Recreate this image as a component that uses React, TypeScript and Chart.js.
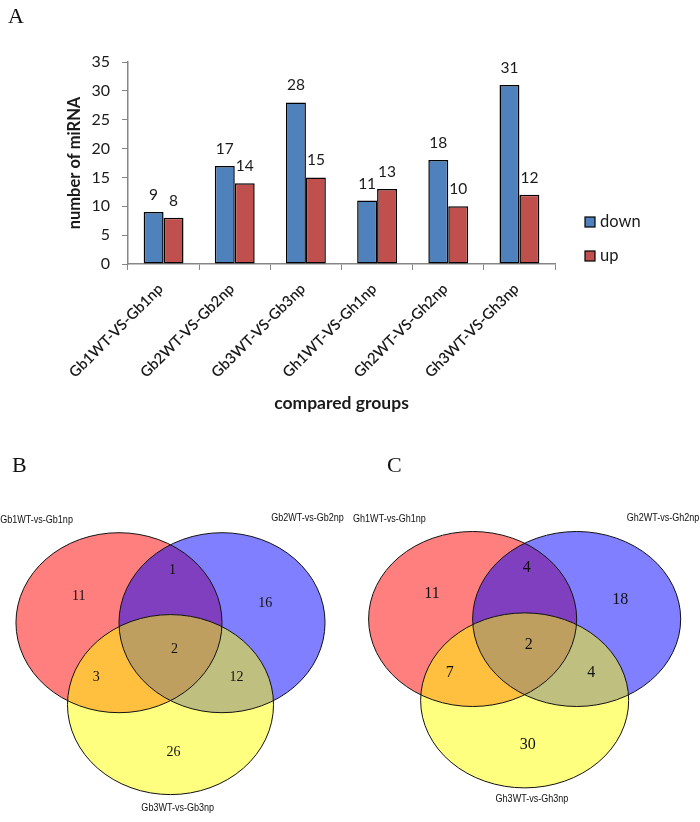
import React, { useEffect, useRef } from 'react';
import { Chart, registerables } from 'chart.js';

Chart.register(...registerables);

// ---------- Panel A data ----------
const GROUPS = [
  'Gb1WT-VS-Gb1np',
  'Gb2WT-VS-Gb2np',
  'Gb3WT-VS-Gb3np',
  'Gh1WT-VS-Gh1np',
  'Gh2WT-VS-Gh2np',
  'Gh3WT-VS-Gh3np',
];
const DOWN = [9, 17, 28, 11, 18, 31];
const UP = [8, 14, 15, 13, 10, 12];
const Y_MIN = 0;
const Y_MAX = 35;
const Y_STEP = 5;

// ---------- Panel B / C data ----------
// region order: only1, 1&2, only2, 1&2&3, 1&3, 2&3, only3
const VENN_B_SETS = ['Gb1WT-vs-Gb1np', 'Gb2WT-vs-Gb2np', 'Gb3WT-vs-Gb3np'];
const VENN_B_COUNTS = [11, 1, 16, 2, 3, 12, 26];
const VENN_C_SETS = ['Gh1WT-vs-Gh1np', 'Gh2WT-vs-Gh2np', 'Gh3WT-vs-Gh3np'];
const VENN_C_COUNTS = [11, 4, 18, 2, 7, 4, 30];

// ---------- Venn geometry (data units, circle radius = 1) ----------
const VENN_RADIUS = 1;
const VENN_B_CENTERS = [
  [-0.5, 0],
  [0.5, 0],
  [0, -0.91],
];
const VENN_C_CENTERS = [
  [-0.5, 0],
  [0.5, 0],
  [0, -0.93],
];
const REGION_ANCHORS = [
  [-0.89, 0.29],
  [0.02, 0.58],
  [0.92, 0.22],
  [0.04, -0.3],
  [-0.72, -0.61],
  [0.64, -0.61],
  [0.03, -1.44],
];
const NAME_ANCHORS = [
  [-1.3, 1.14],
  [1.33, 1.16],
  [0.07, -2.06],
];

const VENN_FILLS = ['rgba(255,0,0,0.5)', 'rgba(0,0,255,0.5)', 'rgba(255,255,0,0.5)'];

const LATO = 'Lato, "Open Sans", sans-serif';
const SERIF = '"Liberation Serif", "DejaVu Serif", serif';
const SANS = '"Liberation Sans", Arial, sans-serif';

// ---------- plugins ----------
const valueLabelPlugin = {
  id: 'valueLabels',
  afterDatasetsDraw(chart: any) {
    const ctx = chart.ctx;
    ctx.save();
    ctx.font = `15.5px ${LATO}`;
    ctx.fillStyle = '#1a1a1a';
    ctx.textAlign = 'center';
    ctx.textBaseline = 'alphabetic';
    chart.data.datasets.forEach((ds: any, i: number) => {
      const meta = chart.getDatasetMeta(i);
      meta.data.forEach((bar: any, j: number) => {
        ctx.fillText(String(ds.data[j]), bar.x, bar.y - 12);
      });
    });
    ctx.restore();
  },
};

const sideLegendPlugin = {
  id: 'sideLegend',
  afterDraw(chart: any) {
    const ctx = chart.ctx;
    const area = chart.chartArea;
    ctx.save();
    ctx.font = `16.5px ${LATO}`;
    ctx.textBaseline = 'middle';
    ctx.textAlign = 'left';
    chart.data.datasets.forEach((ds: any, i: number) => {
      const x = area.right + 30;
      const y = area.bottom - 42 + i * 34;
      ctx.fillStyle = ds.backgroundColor;
      ctx.fillRect(x, y - 5, 10, 10);
      ctx.lineWidth = 1.2;
      ctx.strokeStyle = '#000';
      ctx.strokeRect(x, y - 5, 10, 10);
      ctx.fillStyle = '#1a1a1a';
      ctx.fillText(ds.label, x + 15, y);
    });
    ctx.restore();
  },
};

const vennPlugin = {
  id: 'venn',
  afterDatasetsDraw(chart: any) {
    const ctx = chart.ctx;
    const xs = chart.scales.x;
    const ys = chart.scales.y;
    const circles: any[] = [];
    chart.data.datasets.forEach((ds: any, i: number) => {
      if (ds.role !== 'circle') return;
      const pt = chart.getDatasetMeta(i).data[0];
      const c = ds.data[0];
      const rx = xs.getPixelForValue(c.x + VENN_RADIUS) - pt.x;
      const ry = pt.y - ys.getPixelForValue(c.y + VENN_RADIUS);
      circles.push({ x: pt.x, y: pt.y, rx, ry, fill: ds.backgroundColor, stroke: ds.borderColor });
    });
    ctx.save();
    circles.forEach((c) => {
      ctx.beginPath();
      ctx.ellipse(c.x, c.y, c.rx, c.ry, 0, 0, Math.PI * 2);
      ctx.fillStyle = c.fill;
      ctx.fill();
    });
    circles.forEach((c) => {
      ctx.beginPath();
      ctx.ellipse(c.x, c.y, c.rx, c.ry, 0, 0, Math.PI * 2);
      ctx.strokeStyle = c.stroke;
      ctx.lineWidth = 1;
      ctx.stroke();
    });
    chart.data.datasets.forEach((ds: any, i: number) => {
      if (ds.role !== 'text') return;
      const meta = chart.getDatasetMeta(i);
      ctx.font = ds.font;
      ctx.fillStyle = '#111';
      ctx.textAlign = 'center';
      ctx.textBaseline = 'middle';
      const sx = ds.squeeze || 1;
      meta.data.forEach((pt: any, j: number) => {
        ctx.save();
        ctx.translate(pt.x, pt.y);
        ctx.scale(sx, 1);
        ctx.fillText(String(ds.texts[j]), 0, 0);
        ctx.restore();
      });
    });
    ctx.restore();
  },
};

function barConfig(): any {
  return {
    type: 'bar',
    data: {
      labels: GROUPS,
      datasets: [
        { label: 'down', data: DOWN, backgroundColor: '#4F81BD', borderColor: '#000', borderWidth: 1.5, borderSkipped: false },
        { label: 'up', data: UP, backgroundColor: '#C0504D', borderColor: '#000', borderWidth: 1.5, borderSkipped: false },
      ],
    },
    options: {
      animation: false,
      responsive: false,
      devicePixelRatio: 1,
      events: [],
      layout: { padding: { left: 0, top: 62, right: 145, bottom: 0 } },
      datasets: { bar: { categoryPercentage: 0.56, barPercentage: 1 } },
      scales: {
        x: {
          grid: { display: true, drawOnChartArea: false, drawTicks: true, tickLength: 6, color: '#868686', offset: true },
          border: { color: '#868686', width: 1.5 },
          ticks: {
            minRotation: 45,
            maxRotation: 45,
            autoSkip: false,
            padding: 10,
            labelOffset: -3,
            color: '#1a1a1a',
            font: { family: LATO, size: 15, weight: '600' },
          },
          title: {
            display: true,
            text: 'compared groups',
            color: '#1a1a1a',
            font: { family: LATO, size: 17.5, weight: 'bold' },
            padding: { top: 0, bottom: 6 },
          },
          afterFit: (s: any) => {
            s.height = 156;
          },
        },
        y: {
          min: Y_MIN,
          max: Y_MAX,
          ticks: { stepSize: Y_STEP, padding: 12, color: '#1a1a1a', font: { family: LATO, size: 16 } },
          grid: { display: true, drawOnChartArea: false, drawTicks: true, tickLength: 6, color: '#868686' },
          border: { color: '#868686', width: 1.5 },
          title: {
            display: true,
            text: 'number of miRNA',
            color: '#1a1a1a',
            font: { family: LATO, size: 16.5, weight: 'bold' },
            padding: { top: 65, bottom: 0 },
          },
          afterFit: (s: any) => {
            s.width = 128;
          },
        },
      },
      plugins: { legend: { display: false }, tooltip: { enabled: false } },
    },
    plugins: [valueLabelPlugin, sideLegendPlugin],
  };
}

function vennConfig(sets: string[], counts: number[], centers: number[][], padding: any, countFont: string): any {
  const circleSets = sets.map((name, i) => ({
    role: 'circle',
    label: name,
    data: [{ x: centers[i][0], y: centers[i][1] }],
    backgroundColor: VENN_FILLS[i],
    borderColor: '#111',
    pointRadius: 0,
  }));
  return {
    type: 'scatter',
    data: {
      datasets: [
        ...circleSets,
        {
          role: 'text',
          label: 'counts',
          texts: counts,
          font: countFont,
          data: REGION_ANCHORS.map(([x, y]) => ({ x, y })),
          pointRadius: 0,
        },
        {
          role: 'text',
          label: 'names',
          texts: sets,
          font: `11px ${SANS}`,
          squeeze: 0.82,
          data: NAME_ANCHORS.map(([x, y]) => ({ x, y })),
          pointRadius: 0,
        },
      ],
    },
    options: {
      animation: false,
      responsive: false,
      devicePixelRatio: 1,
      events: [],
      layout: { padding },
      scales: {
        x: { type: 'linear', display: false, min: -1.65, max: 1.65 },
        y: { type: 'linear', display: false, min: -2.0, max: 1.6 },
      },
      plugins: { legend: { display: false }, tooltip: { enabled: false } },
    },
    plugins: [vennPlugin],
  };
}

function ChartCanvas({ make, width, height, style }: any) {
  const ref = useRef<HTMLCanvasElement | null>(null);
  useEffect(() => {
    if (!ref.current) return;
    const chart = new Chart(ref.current, make());
    return () => chart.destroy();
  }, []);
  return <canvas ref={ref} width={width} height={height} style={{ position: 'absolute', width, height, ...style }} />;
}

const panelLetter: React.CSSProperties = {
  position: 'absolute',
  fontFamily: SERIF,
  fontSize: 22,
  lineHeight: '22px',
  color: '#111',
};

export default function App() {
  return (
    <div style={{ position: 'absolute', left: 0, top: 0, width: 700, height: 822, background: '#fff', overflow: 'hidden' }}>
      <ChartCanvas make={barConfig} width={700} height={420} style={{ left: 0, top: 0 }} />
      <ChartCanvas
        make={() =>
          vennConfig(VENN_B_SETS, VENN_B_COUNTS, VENN_B_CENTERS, { left: 0.5, right: 9.5, top: 58.7, bottom: 19.3 }, `14px ${SERIF}`)
        }
        width={350}
        height={402}
        style={{ left: 0, top: 420 }}
      />
      <ChartCanvas
        make={() =>
          vennConfig(VENN_C_SETS, VENN_C_COUNTS, VENN_C_CENTERS, { left: 3, right: 3.7, top: 59, bottom: 28 }, `16px ${SERIF}`)
        }
        width={350}
        height={402}
        style={{ left: 350, top: 420 }}
      />
      <div style={{ ...panelLetter, left: 8, top: 5 }}>A</div>
      <div style={{ ...panelLetter, left: 12, top: 454 }}>B</div>
      <div style={{ ...panelLetter, left: 387, top: 454 }}>C</div>
    </div>
  );
}
